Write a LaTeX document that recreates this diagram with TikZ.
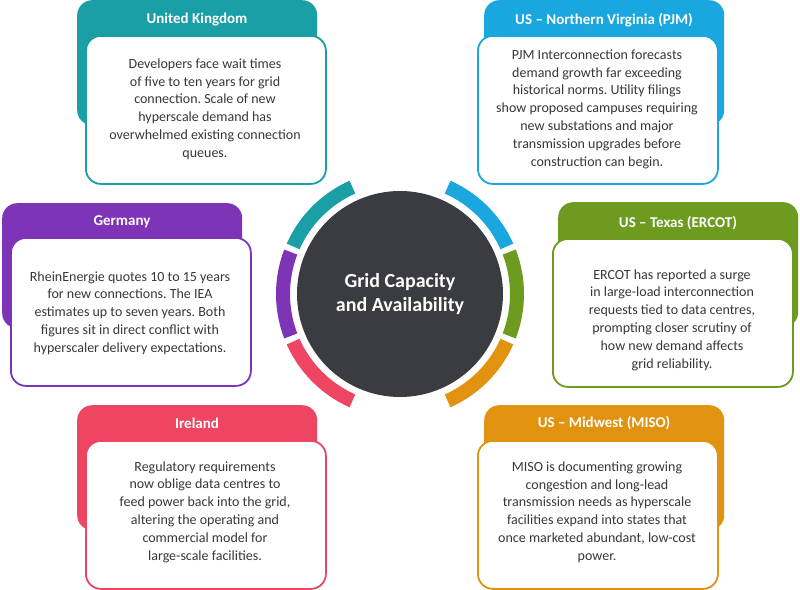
\documentclass[tikz,border=0pt]{standalone}
\usepackage{fontspec}
\setmainfont{Carlito}
\frenchspacing
\definecolor{cteal}{HTML}{199FA5}
\definecolor{cblue}{HTML}{1AA6DE}
\definecolor{cpurple}{HTML}{7D34B6}
\definecolor{cgreen}{HTML}{6D9B1F}
\definecolor{cpink}{HTML}{EE4563}
\definecolor{corange}{HTML}{E1920E}
\definecolor{cdark}{HTML}{3B3C41}
\definecolor{ctxt}{HTML}{383838}
\newcommand\ringseg[3]{\fill[#1] ([shift={(#2:124)}]hubc) arc[start angle=#2,end angle=#3,radius=124] -- ([shift={(#3:110)}]hubc) arc[start angle=#3,end angle=#2,radius=110] -- cycle;}
\begin{document}
\begin{tikzpicture}[x=1pt,y=-1pt,
  backbox/.style={draw=none, fill=#1, rounded corners=15pt, minimum width=240pt, minimum height=125pt, inner sep=0pt, anchor=north west},
  card/.style={draw=#1, line width=1.8pt, fill=white, rounded corners=15pt, minimum width=240pt, minimum height=148pt, inner sep=0pt, anchor=north west},
  head/.style={text=white, inner sep=0pt, font=\bfseries\fontsize{15}{18}\selectfont},
  body/.style={text=ctxt, align=center, inner sep=0pt, font=\frenchspacing\fontsize{14}{17.8}\selectfont}]
\useasboundingbox (0,0) rectangle (800,589);
\fill[white] (0,0) rectangle (800,589);
% hub
\coordinate (hubc) at (400,294);
\node[circle, fill=cdark, minimum size=206pt, inner sep=0pt, text=white, align=center,
  font=\bfseries\fontsize{20}{24}\selectfont] (hub) at (hubc) {Grid Capacity\\and Availability};
\ringseg{cteal}{-114}{-156}
\ringseg{cpurple}{-159}{-201}
\ringseg{cpink}{-204}{-246}
\ringseg{cblue}{-24}{-66}
\ringseg{cgreen}{21}{-21}
\ringseg{corange}{24}{66}
% United Kingdom
\node[backbox=cteal] (ukb) at (77,0) {};
\node[head] (ukh) at (197,20) {United Kingdom};
\node[card=cteal] (ukc) at (85,35) {};
\node[body] (ukt) at (205,109) {Developers face wait times\\of five to ten years for grid\\connection. Scale of new\\hyperscale demand has\\overwhelmed existing connection\\queues.};
% PJM
\node[backbox=cblue] (pjb) at (484,0) {};
\node[head] (pjh) at (604,20) {US – Northern Virginia (PJM)};
\node[card=cblue] (pjc) at (477,35) {};
\node[body] (pjt) at (597,109) {PJM Interconnection forecasts\\demand growth far exceeding\\historical norms. Utility filings\\show proposed campuses requiring\\new substations and major\\transmission upgrades before\\construction can begin.};
% Germany
\node[backbox=cpurple] (deb) at (2,203) {};
\node[head] (deh) at (122,222) {Germany};
\node[card=cpurple] (dec) at (10,237) {};
\node[body] (det) at (130,313) {RheinEnergie quotes 10 to 15 years\\for new connections. The IEA\\estimates up to seven years. Both\\figures sit in direct conflict with\\hyperscaler delivery expectations.};
% Texas
\node[backbox=cgreen] (txb) at (558,202) {};
\node[head] (txh) at (678,223) {US – Texas (ERCOT)};
\node[card=cgreen] (txc) at (552,238) {};
\node[body] (txt) at (672,320) {ERCOT has reported a surge\\in large-load interconnection\\requests tied to data centres,\\prompting closer scrutiny of\\how new demand affects\\grid reliability.};
% Ireland
\node[backbox=cpink] (ieb) at (77,405) {};
\node[head] (ieh) at (197,423) {Ireland};
\node[card=cpink] (iec) at (85,440) {};
\node[body] (iet) at (205,512) {Regulatory requirements\\now oblige data centres to\\feed power back into the grid,\\altering the operating and\\commercial model for\\large-scale facilities.};
% MISO
\node[backbox=corange] (mib) at (484,405) {};
\node[head] (mih) at (604,423) {US – Midwest (MISO)};
\node[card=corange] (mic) at (477,440) {};
\node[body] (mit) at (597,512) {MISO is documenting growing\\congestion and long-lead\\transmission needs as hyperscale\\facilities expand into states that\\once marketed abundant, low-cost\\power.};
\end{tikzpicture}
\end{document}
